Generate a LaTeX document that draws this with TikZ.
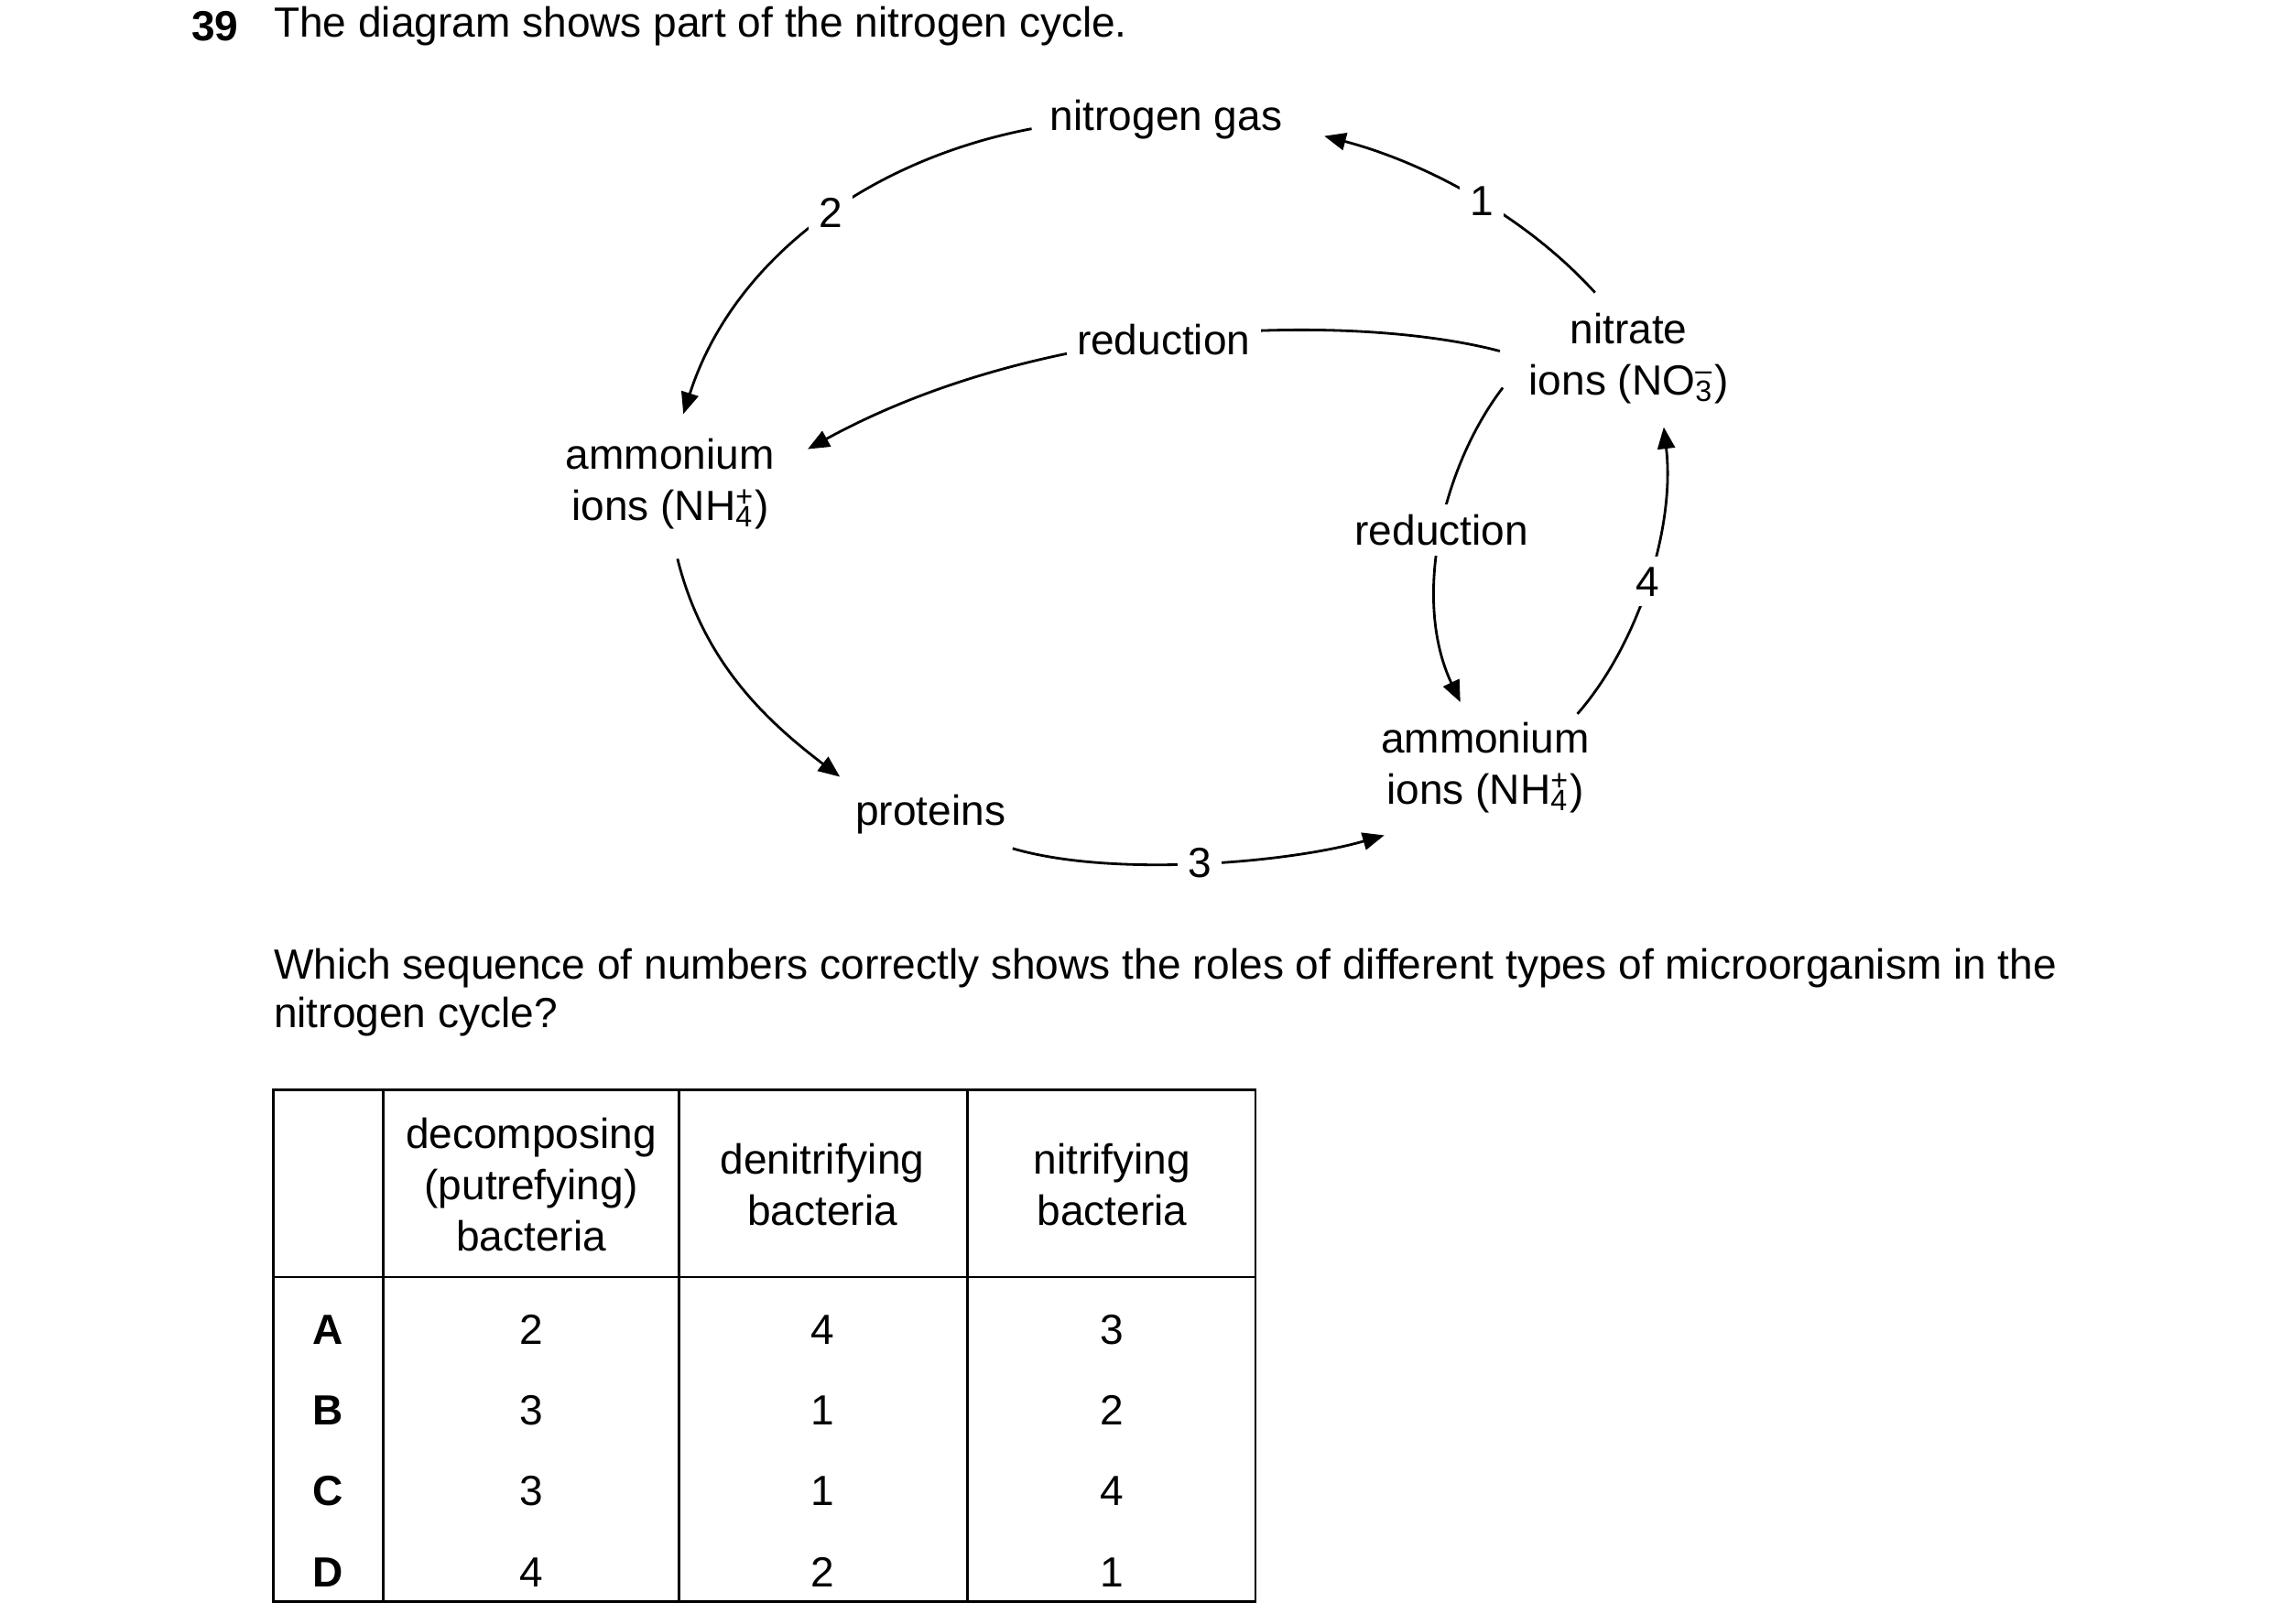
\documentclass[tikz,border=0pt]{standalone}
\usepackage{fontspec}
\setmainfont{Liberation Sans}
\usetikzlibrary{arrows.meta}
\newcommand{\ionsup}[2]{\rlap{\textsuperscript{#1}}\textsubscript{#2}}
\tikzset{
  lab/.style = {font=\fontsize{8.2}{10}\selectfont, align=center, inner sep=1pt},
  num/.style = {lab, fill=white, inner sep=2pt},
  cyc/.style = {line width=0.5pt, -{Triangle[length=4.2pt,width=3.4pt]}},
  grid/.style = {line width=0.5pt}
}
\begin{document}
\begin{tikzpicture}[x=0.1mm, y=-0.1mm]
  \useasboundingbox (0,0) rectangle (1552,1110);
  % heading
  \node[lab, font=\fontsize{8.2}{10}\selectfont\bfseries] (qno) at (147,18) {39};
  \node[lab, anchor=west] (qtxt) at (183,18) {The diagram shows part of the nitrogen cycle.};
  % cycle
  \node[lab] (gas)   at (797,82)   {nitrogen gas};
  \node[lab] (nitr)  at (1113,245) {nitrate\\ions (NO\ionsup{--}{3})};
  \node[lab] (amL)   at (458,331)  {ammonium\\ions (NH\ionsup{+}{4})};
  \node[lab] (amR)   at (1015,525) {ammonium\\ions (NH\ionsup{+}{4})};
  \node[lab] (prot)  at (636,557)  {proteins};
  \coordinate (n1s) at (1090,200);  \coordinate (n1e) at (905,93);
  \coordinate (n2s) at (705,88);    \coordinate (n2e) at (467,283);
  \coordinate (rTs) at (1025,240);  \coordinate (rTe) at (552,307);
  \coordinate (rRs) at (1027,265);  \coordinate (rRe) at (998,480);
  \coordinate (n4s) at (1078,488);  \coordinate (n4e) at (1137,292);
  \coordinate (pAs) at (463,382);   \coordinate (pAe) at (574,531);
  \coordinate (n3s) at (692,580);   \coordinate (n3e) at (946,571);
  \draw[cyc] (n1s) .. controls (1040,145) and (970,110) .. node[num, pos=0.45] (one) {1} (n1e);
  \draw[cyc] (n2s) .. controls (590,110) and (500,180) .. node[num, pos=0.45] (two) {2} (n2e);
  \draw[cyc] (rTs) .. controls (930,215) and (720,215) .. node[num, pos=0.54] (redT) {reduction} (rTe);
  \draw[cyc] (rRs) .. controls (985,320) and (965,410) .. node[num, pos=0.48] (redR) {reduction} (rRe);
  \draw[cyc] (n4s) .. controls (1120,440) and (1145,360) .. node[num, pos=0.5] (four) {4} (n4e);
  \draw[cyc] (pAs) .. controls (480,450) and (520,490) .. (pAe);
  \draw[cyc] (n3s) .. controls (760,600) and (880,590) .. node[num, pos=0.5] (three) {3} (n3e);
  % question
  \node[lab, anchor=west] (q1) at (183,662) {Which sequence of numbers correctly shows the roles of different types of microorganism in the};
  \node[lab, anchor=west] (q2) at (183,695) {nitrogen cycle?};
  % table
  \draw[grid] (187,745) rectangle (858,1095);
  \draw[grid] (187,873) -- (858,873);
  \foreach \cx in {262,464,661} \draw[grid] (\cx,745) -- (\cx,1095);
  \node[lab] (h1) at (363,810) {decomposing\\(putrefying)\\bacteria};
  \node[lab] (h2) at (562,810) {denitrifying\\bacteria};
  \node[lab] (h3) at (760,810) {nitrifying\\bacteria};
  \foreach \r/\ry/\a/\b/\c in {A/909/2/4/3, B/964/3/1/2, C/1019/3/1/4, D/1075/4/2/1} {
    \node[lab, font=\fontsize{8.2}{10}\selectfont\bfseries] (row\r) at (224,\ry) {\r};
    \node[lab] (dec\r) at (363,\ry) {\a};
    \node[lab] (den\r) at (562,\ry) {\b};
    \node[lab] (nit\r) at (760,\ry) {\c};
  }
\end{tikzpicture}
\end{document}
